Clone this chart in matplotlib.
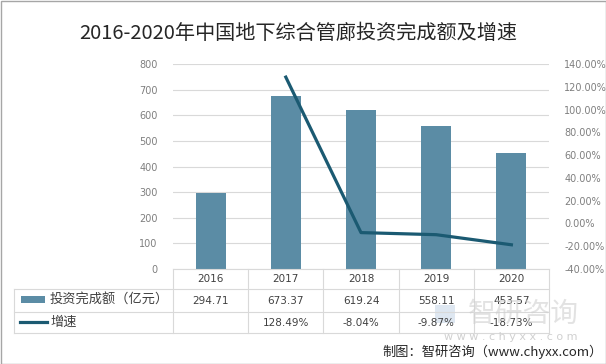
import numpy as np
import matplotlib
matplotlib.use('Agg')
import matplotlib.pyplot as plt
from matplotlib.patches import Rectangle
from matplotlib.ticker import MultipleLocator, FuncFormatter

# data
years = ['2016', '2017', '2018', '2019', '2020']
invest = [294.71, 673.37, 619.24, 558.11, 453.57]      # 亿元
growth = [None, 128.49, -8.04, -9.87, -18.73]           # %

row_labels = ['投资完成额（亿元）', '增速']
title = '2016-2020年中国地下综合管廊投资完成额及增速'
source = '制图：智研咨询（www.chyxx.com）'

bar_color = '#5b8ca5'
line_color = '#1b5a72'
grid_color = '#d9d9d9'
cjk = ['Noto Sans CJK SC', 'DejaVu Sans']

W, H = 606, 364
fig = plt.figure(figsize=(W / 100, H / 100), dpi=100)

# plot area in pixels
L, R, T, B = 173, 549, 64, 269
ax = fig.add_axes([L / W, 1 - B / H, (R - L) / W, (B - T) / H])
x = np.arange(len(years))
ax.bar(x, invest, width=0.4, color=bar_color, zorder=2)
ax.set_xlim(-0.5, len(years) - 0.5)
ax.set_ylim(0, 800)
ax.yaxis.set_major_locator(MultipleLocator(100))
ax.grid(axis='y', color=grid_color, lw=0.8, zorder=0)
ax.set_xticks([])
ax.tick_params(axis='y', length=0, pad=11, labelsize=7, labelcolor='#7f7f7f')
for s in ax.spines.values():
    s.set_visible(False)

ax2 = ax.twinx()
gx = [i for i, g in enumerate(growth) if g is not None]
gy = [g for g in growth if g is not None]
ax2.plot(gx, gy, color=line_color, lw=2.3, zorder=3)
ax2.set_ylim(-40, 140)
ax2.yaxis.set_major_locator(MultipleLocator(20))
ax2.yaxis.set_major_formatter(FuncFormatter(lambda v, p: f'{v:.2f}%'))
ax2.tick_params(axis='y', length=0, pad=11, labelsize=7, labelcolor='#7f7f7f')
for s in ax2.spines.values():
    s.set_visible(False)

# overlay in pixel coords for table, title, footer
ov = fig.add_axes([0, 0, 1, 1], facecolor='none')
ov.set_xlim(0, W)
ov.set_ylim(H, 0)
ov.axis('off')

colw = (R - L) / len(years)
bounds = [L + k * colw for k in range(len(years) + 1)]
centers = [L + (k + 0.5) * colw for k in range(len(years))]
rows_y = [269, 289, 312, 333]
tl = 14

ov.plot([L, R], [rows_y[0]] * 2, color=grid_color, lw=0.8)
for yy in rows_y[1:]:
    ov.plot([tl, R], [yy, yy], color=grid_color, lw=0.8)
ov.plot([tl, tl], [rows_y[1], rows_y[3]], color=grid_color, lw=0.8)
for bx in bounds:
    ov.plot([bx, bx], [rows_y[0], rows_y[3]], color=grid_color, lw=0.8)

mid = [(rows_y[i] + rows_y[i + 1]) / 2 for i in range(3)]
for cx, yr, v, g in zip(centers, years, invest, growth):
    ov.text(cx, mid[0], yr, ha='center', va='center', fontsize=7.5, color='#404040')
    ov.text(cx, mid[1], f'{v:.2f}', ha='center', va='center', fontsize=7.5, color='#404040')
    if g is not None:
        ov.text(cx, mid[2], f'{g:.2f}%', ha='center', va='center', fontsize=7.5, color='#404040')

ov.add_patch(Rectangle((21, 296), 24, 7, color=bar_color, lw=0))
ov.plot([20, 47], [mid[2] - 1, mid[2] - 1], color=line_color, lw=2.3)
ov.text(50, mid[1], row_labels[0], ha='left', va='center', fontsize=9.5,
        color='#404040', family=cjk)
ov.text(50, mid[2], row_labels[1], ha='left', va='center', fontsize=9.5,
        color='#404040', family=cjk)

# watermark
ov.add_patch(Rectangle((435, 305), 20, 18, color='#c8d8e8', alpha=0.6, lw=0))
ov.text(468, 314, '智研咨询', ha='left', va='center', fontsize=20,
        color='#d0d0d0', alpha=0.6, family=cjk)
ov.text(511, 337, 'w w w . c h y x x . c o m', ha='center', va='center',
        fontsize=8, color='#d0d0d0')

ov.text(298, 33, title, ha='center', va='center', fontsize=14.5, color='#262626', family=cjk)
ov.text(603, 352, source, ha='right', va='center', fontsize=9.5, color='#262626', family=cjk)

ov.add_patch(Rectangle((0.5, 0.5), W - 1, H - 1, fill=False, edgecolor='#a6a6a6', lw=1))

fig.savefig('out.png', dpi=100)
